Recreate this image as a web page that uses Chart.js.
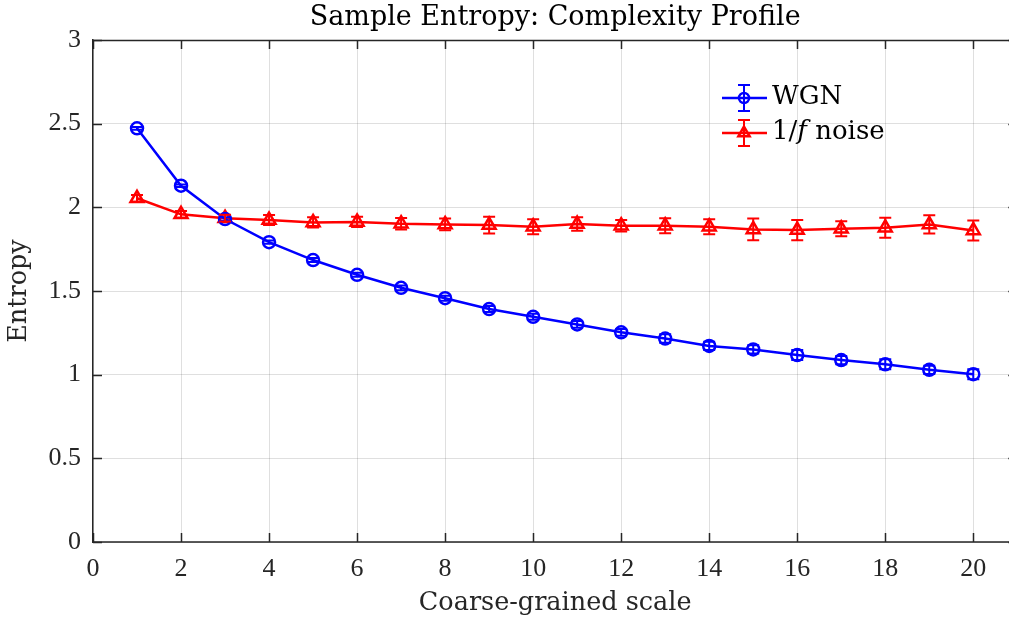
<!DOCTYPE html>
<html>
<head>
<meta charset="utf-8">
<script src="https://cdn.jsdelivr.net/npm/chart.js@4.4.1/dist/chart.umd.min.js"></script>
<style>
  body { margin: 0; background: #fff; overflow: hidden; }
  #wrap { width: 1040px; height: 623px; }
</style>
</head>
<body>
<div id="wrap"><canvas id="entropyChart" width="1040" height="623"></canvas></div>
<script>
// Coarse-grained scales and sample entropy values
const scaleFactors = [1, 2, 3, 4, 5, 6, 7, 8, 9, 10, 11, 12, 13, 14, 15, 16, 17, 18, 19, 20];
const wgnEntropy = [2.472, 2.129, 1.93, 1.792, 1.685, 1.597, 1.519, 1.457, 1.392, 1.346, 1.300, 1.253, 1.216, 1.172, 1.151, 1.117, 1.087, 1.062, 1.029, 1.003];
const wgnError = [0.008, 0.008, 0.01, 0.01, 0.012, 0.012, 0.014, 0.015, 0.018, 0.018, 0.02, 0.02, 0.025, 0.025, 0.025, 0.03, 0.025, 0.03, 0.025, 0.03];
const pinkEntropy = [2.054, 1.958, 1.935, 1.924, 1.91, 1.913, 1.902, 1.898, 1.894, 1.884, 1.900, 1.890, 1.890, 1.884, 1.868, 1.864, 1.872, 1.878, 1.898, 1.862];
const pinkError = [0.02, 0.02, 0.02, 0.03, 0.03, 0.03, 0.035, 0.035, 0.05, 0.045, 0.04, 0.035, 0.045, 0.045, 0.065, 0.06, 0.045, 0.06, 0.055, 0.06];
const xTicks = [0, 2, 4, 6, 8, 10, 12, 14, 16, 18, 20];

const axisColor = "#262626";
const gridColor = "rgba(38, 38, 38, 0.15)";
const tickFont = { family: "'Liberation Serif', 'Times New Roman', serif", size: 26 };
const labelFamily = "'DejaVu Serif', serif";
const labelFont = { family: labelFamily, size: 25.5 };

function toPoints(values) {
  return scaleFactors.map((s, i) => ({ x: s, y: values[i] }));
}

// Vertical error bars with caps, positioned through the chart scales
const errorBarPlugin = {
  id: "errorBars",
  afterDatasetsDraw(chart) {
    const ctx = chart.ctx;
    const xScale = chart.scales.x;
    const yScale = chart.scales.y;
    chart.data.datasets.forEach((ds) => {
      ctx.save();
      ctx.strokeStyle = ds.borderColor;
      ctx.lineWidth = 2;
      ds.data.forEach((pt, i) => {
        const err = ds.errors[i];
        const px = xScale.getPixelForValue(pt.x);
        const yTop = yScale.getPixelForValue(pt.y + err);
        const yBot = yScale.getPixelForValue(pt.y - err);
        ctx.beginPath();
        ctx.moveTo(px, yTop);
        ctx.lineTo(px, yBot);
        ctx.moveTo(px - 6, yTop);
        ctx.lineTo(px + 6, yTop);
        ctx.moveTo(px - 6, yBot);
        ctx.lineTo(px + 6, yBot);
        ctx.stroke();
      });
      ctx.restore();
    });
  },
};

// Top and bottom box lines plus inward tick marks, MATLAB style
const framePlugin = {
  id: "frame",
  afterDraw(chart) {
    const ctx = chart.ctx;
    const area = chart.chartArea;
    const xScale = chart.scales.x;
    const yScale = chart.scales.y;
    const len = 9;
    ctx.save();
    ctx.strokeStyle = axisColor;
    ctx.lineWidth = 1.5;
    ctx.beginPath();
    ctx.moveTo(area.left, area.top + 0.5);
    ctx.lineTo(area.right, area.top + 0.5);
    ctx.moveTo(area.left, area.bottom);
    ctx.lineTo(area.right, area.bottom);
    ctx.stroke();
    ctx.beginPath();
    xScale.ticks.forEach((t) => {
      const px = Math.round(xScale.getPixelForValue(t.value)) + 0.5;
      ctx.moveTo(px, area.bottom);
      ctx.lineTo(px, area.bottom - len);
      ctx.moveTo(px, area.top);
      ctx.lineTo(px, area.top + len);
    });
    yScale.ticks.forEach((t) => {
      const py = Math.round(yScale.getPixelForValue(t.value)) + 0.5;
      ctx.moveTo(area.left, py);
      ctx.lineTo(area.left + len, py);
      ctx.moveTo(area.right, py);
      ctx.lineTo(area.right - len, py);
    });
    ctx.stroke();
    ctx.restore();
  },
};

// Legend drawn inside the axes, no box
const legendPlugin = {
  id: "innerLegend",
  afterDraw(chart) {
    const ctx = chart.ctx;
    const x0 = 722, x1 = 767, xm = 744, xt = 772;
    const rows = [
      { ds: chart.data.datasets[0], y: 98, parts: [["WGN", "normal"]] },
      { ds: chart.data.datasets[1], y: 133, parts: [["1/", "normal"], ["f", "italic"], [" noise", "normal"]] },
    ];
    ctx.save();
    rows.forEach((row) => {
      const color = row.ds.borderColor;
      ctx.strokeStyle = color;
      ctx.lineWidth = 2.5;
      ctx.beginPath();
      ctx.moveTo(x0, row.y);
      ctx.lineTo(x1, row.y);
      ctx.stroke();
      ctx.lineWidth = 2;
      ctx.beginPath();
      ctx.moveTo(xm, row.y - 13);
      ctx.lineTo(xm, row.y + 13);
      ctx.moveTo(xm - 6, row.y - 13);
      ctx.lineTo(xm + 6, row.y - 13);
      ctx.moveTo(xm - 6, row.y + 13);
      ctx.lineTo(xm + 6, row.y + 13);
      ctx.stroke();
      ctx.fillStyle = "rgba(0,0,0,0)";
      ctx.lineWidth = 2.5;
      Chart.helpers.drawPoint(ctx, {
        pointStyle: row.ds.pointStyle,
        radius: row.ds.pointStyle === "circle" ? 5 : 6.5,
        borderWidth: 2.5,
      }, xm, row.y);
      ctx.fillStyle = "#000";
      ctx.textBaseline = "middle";
      let tx = xt;
      row.parts.forEach(([txt, style]) => {
        ctx.font = style + " 26px " + labelFamily;
        ctx.fillText(txt, tx, row.y - 1);
        tx += ctx.measureText(txt).width;
      });
    });
    ctx.restore();
  },
};

const ctx = document.getElementById("entropyChart").getContext("2d");
new Chart(ctx, {
  type: "line",
  data: {
    datasets: [
      {
        label: "WGN",
        data: toPoints(wgnEntropy),
        errors: wgnError,
        borderColor: "#0000ff",
        backgroundColor: "rgba(0,0,0,0)",
        borderWidth: 2.5,
        pointStyle: "circle",
        pointRadius: 6,
        pointBorderWidth: 2.5,
        pointBackgroundColor: "rgba(0,0,0,0)",
        tension: 0,
      },
      {
        label: "1/f noise",
        data: toPoints(pinkEntropy),
        errors: pinkError,
        borderColor: "#ff0000",
        backgroundColor: "rgba(0,0,0,0)",
        borderWidth: 2.5,
        pointStyle: "triangle",
        pointRadius: 7.5,
        pointBorderWidth: 2.5,
        pointBackgroundColor: "rgba(0,0,0,0)",
        tension: 0,
      },
    ],
  },
  options: {
    responsive: false,
    animation: false,
    devicePixelRatio: 1,
    // axes run past the right edge of the 1009px view, as in the reference
    layout: { autoPadding: false, padding: { left: 0, top: 0, bottom: 0, right: 22.7 } },
    plugins: {
      legend: { display: false },
      tooltip: { enabled: false },
      title: {
        display: true,
        text: "Sample Entropy: Complexity Profile",
        color: "#000",
        fullSize: false,
        font: { family: labelFamily, size: 27, weight: "normal" },
        padding: { top: 2, bottom: 5.6 },
      },
    },
    scales: {
      x: {
        type: "linear",
        min: 0,
        max: 21,
        afterBuildTicks: (scale) => {
          scale.ticks = xTicks.map((v) => ({ value: v }));
        },
        afterFit: (scale) => {
          scale.height = 81;
          scale.paddingLeft = 0;
          scale.paddingRight = 0;
        },
        grid: {
          color: (c) => (c.tick && xTicks.includes(c.tick.value) ? gridColor : "rgba(0,0,0,0)"),
          drawTicks: false,
        },
        border: { display: false },
        ticks: { color: axisColor, font: tickFont, padding: 12, maxRotation: 0, autoSkip: false },
        title: {
          display: true,
          text: "Coarse-grained scale",
          color: axisColor,
          font: labelFont,
          padding: { top: 0, bottom: 4 },
        },
      },
      y: {
        min: 0,
        max: 3,
        afterFit: (scale) => {
          scale.width = 93;
          scale.paddingTop = 0;
          scale.paddingBottom = 0;
        },
        grid: { color: gridColor, drawTicks: false },
        border: { display: true, color: axisColor, width: 1.5 },
        ticks: {
          color: axisColor,
          font: tickFont,
          padding: 12,
          stepSize: 0.5,
          callback: (v) => String(Number(v.toFixed(1))),
        },
        title: {
          display: true,
          text: "Entropy",
          color: axisColor,
          font: labelFont,
          padding: { top: 4, bottom: 0 },
        },
      },
    },
  },
  plugins: [errorBarPlugin, framePlugin, legendPlugin],
});
</script>
</body>
</html>
